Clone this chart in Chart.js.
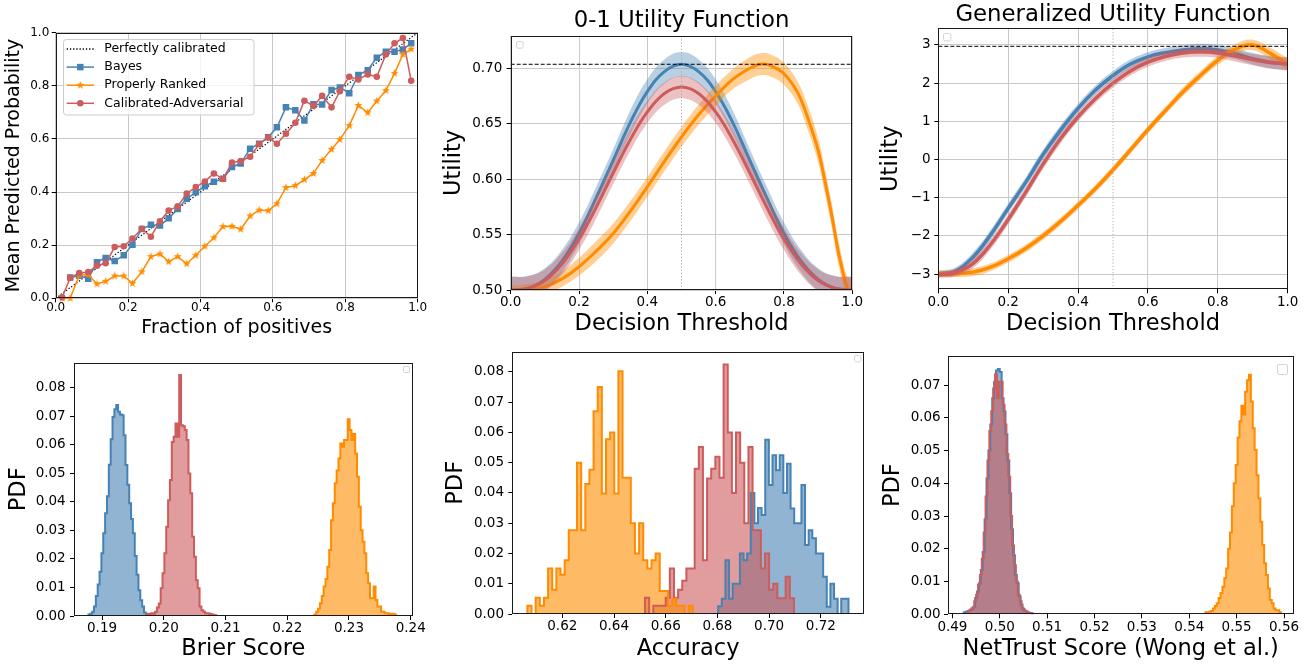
<!DOCTYPE html>
<html><head><meta charset="utf-8">
<script src="https://cdn.jsdelivr.net/npm/chart.js@4.4.1/dist/chart.umd.min.js"></script>
<style>
html,body{margin:0;padding:0;background:#fff;width:1312px;height:668px;overflow:hidden;position:relative}
canvas{position:absolute}
</style></head><body>
<script>
// ---------------- DATA ----------------
const seriesNames = ['Perfectly calibrated', 'Bayes', 'Properly Ranked', 'Calibrated-Adversarial'];

// Panel 1: calibration curves
const diagX = [0, 1];
const diagY = [0, 1];
const calX = [0.018,0.040,0.065,0.090,0.114,0.138,0.163,0.188,0.212,0.238,0.263,0.288,0.312,0.337,0.362,0.387,0.412,0.437,0.462,0.487,0.511,0.537,0.562,0.587,0.611,0.636,0.662,0.687,0.712,0.736,0.762,0.785,0.811,0.836,0.862,0.887,0.912,0.936,0.959,0.982];
const calBayes = [null,0.078,0.085,0.074,0.136,0.152,0.140,0.162,0.202,0.261,0.277,0.274,0.301,0.336,0.375,0.399,0.422,0.439,0.450,0.494,0.508,0.563,0.582,0.606,0.644,0.719,0.708,0.669,0.731,0.730,0.784,0.794,0.772,0.841,0.859,0.906,0.928,0.928,0.937,0.960];
const calRanked = [0.0,0.0,0.087,0.089,0.054,0.064,0.084,0.084,0.056,0.100,0.157,0.167,0.138,0.157,0.130,0.162,0.196,0.228,0.270,0.271,0.260,0.310,0.332,0.330,0.356,0.417,0.424,0.447,0.470,0.519,0.561,0.598,0.650,0.726,0.699,0.743,0.782,0.847,0.918,0.938];
const calAdv = [0.004,0.077,0.095,0.099,0.123,0.132,0.193,0.196,0.225,0.262,0.232,0.290,0.330,0.346,0.394,0.419,0.440,0.470,0.449,0.511,0.517,0.533,0.580,0.606,0.582,0.620,0.661,0.744,0.724,0.762,0.719,0.780,0.834,0.824,0.843,0.834,0.918,0.960,0.980,0.819];
const unitTicks = [0, 0.2, 0.4, 0.6, 0.8, 1.0];

// Panel 2: 0-1 utility
const thrX = [0,0.05,0.1,0.15,0.2,0.25,0.3,0.35,0.4,0.45,0.5,0.55,0.6,0.65,0.7,0.75,0.8,0.85,0.9,0.95,1.0];
const u01Bayes = [0.500,0.5016,0.5096,0.526,0.551,0.583,0.617,0.651,0.679,0.697,0.7036,0.697,0.679,0.651,0.617,0.583,0.551,0.526,0.5096,0.5016,0.500];
const u01BayesSd = [0.012,0.011,0.010,0.010,0.010,0.010,0.010,0.011,0.011,0.011,0.011,0.011,0.011,0.011,0.010,0.010,0.010,0.010,0.010,0.011,0.012];
const u01Adv = [0.500,0.5015,0.5086,0.5235,0.546,0.5743,0.6055,0.6356,0.6606,0.6772,0.683,0.6772,0.6606,0.6356,0.6055,0.5743,0.546,0.5235,0.5086,0.5015,0.500];
const u01AdvSd = [0.012,0.011,0.010,0.010,0.010,0.010,0.010,0.010,0.010,0.010,0.010,0.010,0.010,0.010,0.010,0.010,0.010,0.010,0.010,0.011,0.012];
const u01RankedX = [0,0.05,0.1,0.15,0.2,0.25,0.3,0.35,0.4,0.45,0.5,0.55,0.6,0.65,0.7,0.73,0.76,0.8,0.84,0.87,0.9,0.92,0.94,0.96,0.98,0.99,1.0];
const u01Ranked = [0.500,0.5005,0.503,0.510,0.521,0.535,0.551,0.571,0.593,0.616,0.638,0.658,0.675,0.690,0.700,0.7036,0.7025,0.695,0.678,0.655,0.626,0.598,0.567,0.533,0.507,0.500,0.500];
const u01RankedSd = [0.004,0.005,0.006,0.007,0.008,0.009,0.009,0.009,0.009,0.009,0.009,0.009,0.009,0.009,0.010,0.010,0.010,0.010,0.010,0.011,0.011,0.011,0.011,0.011,0.010,0.010,0.010];
const u01Best = 0.7036;
const u01Ticks = [0.50, 0.55, 0.60, 0.65, 0.70];

// Panel 3: generalized utility
const guBayes = [-3.0,-2.92,-2.55,-1.97,-1.28,-0.6,0.13,0.77,1.34,1.82,2.2,2.5,2.69,2.8,2.87,2.9,2.87,2.77,2.64,2.55,2.51];
const guBayesSd = [0.08,0.10,0.12,0.13,0.13,0.13,0.13,0.13,0.12,0.12,0.12,0.12,0.12,0.12,0.12,0.13,0.13,0.14,0.15,0.16,0.17];
const guAdv = [-3.02,-2.96,-2.72,-2.22,-1.57,-0.86,-0.12,0.55,1.12,1.6,2.0,2.32,2.55,2.7,2.79,2.82,2.79,2.71,2.62,2.54,2.5];
const guAdvSd = [0.08,0.10,0.12,0.13,0.13,0.13,0.13,0.13,0.12,0.12,0.12,0.12,0.12,0.12,0.12,0.13,0.13,0.14,0.15,0.16,0.17];
const guRanked = [-3.0,-2.99,-2.95,-2.82,-2.6,-2.33,-2.0,-1.62,-1.2,-0.76,-0.27,0.25,0.78,1.28,1.77,2.2,2.6,2.89,3.0,2.78,2.5];
const guRankedSd = [0.09,0.09,0.10,0.10,0.10,0.10,0.10,0.10,0.10,0.10,0.10,0.10,0.10,0.10,0.11,0.11,0.12,0.13,0.14,0.15,0.16];
const guBest = 2.965;
const guTicks = [-3, -2, -1, 0, 1, 2, 3];

// Panel 4: Brier score histograms
const brierWidth = 0.0003;
const brierBayesStart = 0.1878;
const brierBayes = [0.0005,0.0008,0.0015,0.0033,0.007,0.011,0.0155,0.022,0.029,0.036,0.042,0.053,0.062,0.0698,0.0725,0.074,0.0716,0.0706,0.0704,0.0634,0.0529,0.046,0.0395,0.034,0.029,0.021,0.0145,0.009,0.0055,0.0033,0.0012,0.0004];
const brierAdvStart = 0.1971;
const brierAdv = [0.0004,0.0008,0.0004,0.001,0.0008,0.0015,0.003,0.0044,0.0097,0.015,0.022,0.0313,0.0406,0.0477,0.061,0.0628,0.0675,0.0628,0.0845,0.0669,0.0665,0.0652,0.0617,0.05,0.043,0.0278,0.0208,0.0125,0.0097,0.0033,0.002,0.0015,0.001,0.001,0.0008,0.0006,0.0004,0.0003];
const brierRankedStart = 0.2244;
const brierRanked = [0.0005,0.0015,0.0025,0.0045,0.007,0.0103,0.013,0.0173,0.0231,0.0336,0.0395,0.0465,0.051,0.0552,0.0605,0.0593,0.0617,0.0617,0.069,0.0652,0.0617,0.0638,0.057,0.0488,0.0383,0.0301,0.026,0.022,0.015,0.0115,0.0062,0.0062,0.0103,0.0056,0.0033,0.0033,0.0015,0.0015,0.001,0.001,0.0005,0.0008,0.0008,0.0005];
const brierTicks = [0.19, 0.20, 0.21, 0.22, 0.23, 0.24];
const pdfTicks8 = [0, 0.01, 0.02, 0.03, 0.04, 0.05, 0.06, 0.07, 0.08];

// Panel 5: accuracy histograms
const accRankedStart = 0.6065, accRankedWidth = 0.0016;
const accRanked = [0.0027,0.0,0.0054,0.0027,0.0054,0.015,0.008,0.015,0.013,0.0178,0.0277,0.0277,0.050,0.0277,0.043,0.0477,0.067,0.075,0.0398,0.0578,0.060,0.0398,0.0802,0.045,0.045,0.030,0.020,0.030,0.0178,0.015,0.0178,0.020,0.0076,0.0076,0.0027,0.005,0.0027,0.0027,0.0,0.0027];
const accAdvStart = 0.652, accAdvWidth = 0.0016;
const accAdv = [0.0054,0.0,0.0027,0.0027,0.0027,0.0054,0.015,0.0054,0.008,0.011,0.015,0.015,0.048,0.0552,0.0178,0.0448,0.048,0.052,0.045,0.0825,0.060,0.040,0.060,0.050,0.030,0.0552,0.0277,0.0277,0.015,0.020,0.008,0.010,0.0052,0.0052,0.0123,0.0052];
const accBayesStart = 0.6803, accBayesWidth = 0.0014;
const accBayes = [0.0026,0.005,0.0178,0.005,0.010,0.010,0.020,0.0178,0.020,0.040,0.030,0.035,0.0327,0.0576,0.0426,0.0525,0.0475,0.0525,0.040,0.0497,0.0349,0.030,0.030,0.0426,0.0228,0.0277,0.025,0.020,0.020,0.0123,0.0024,0.010,0.005,0.0,0.005,0.005];
const accTicks = [0.62, 0.64, 0.66, 0.68, 0.70, 0.72];

// Panel 6: NetTrust histograms
const ntWidth = 0.0004;
const ntBayesStart = 0.4924;
const ntBayes = [0.0006,0.0008,0.001,0.0013,0.0018,0.0023,0.005,0.007,0.0095,0.0135,0.019,0.029,0.0415,0.050,0.058,0.066,0.071,0.0745,0.0749,0.074,0.066,0.062,0.055,0.047,0.037,0.026,0.018,0.012,0.0095,0.0055,0.003,0.0016,0.001,0.0008,0.0005,0.0004,0.0002];
const ntAdvStart = 0.4930;
const ntAdv = [0.0005,0.001,0.0015,0.002,0.004,0.006,0.009,0.012,0.017,0.025,0.036,0.047,0.056,0.062,0.069,0.0733,0.066,0.071,0.071,0.064,0.058,0.049,0.042,0.030,0.021,0.015,0.010,0.006,0.004,0.002,0.0012,0.0008,0.0005,0.0003];
const ntRankedStart = 0.5434;
const ntRanked = [0.0006,0.0006,0.0008,0.001,0.0018,0.0025,0.0034,0.005,0.0065,0.0084,0.011,0.014,0.020,0.025,0.033,0.040,0.0456,0.054,0.059,0.0637,0.061,0.068,0.0715,0.0732,0.065,0.0568,0.0502,0.0425,0.0354,0.0283,0.0212,0.0156,0.012,0.0079,0.0044,0.0034,0.0018,0.0012,0.0012,0.0006];
const ntTicks = [0.49, 0.50, 0.51, 0.52, 0.53, 0.54, 0.55, 0.56];
const pdfTicks7 = [0, 0.01, 0.02, 0.03, 0.04, 0.05, 0.06, 0.07];

// ---------------- STYLE / HELPERS ----------------
Chart.defaults.font.family = 'DejaVu Sans';
Chart.defaults.color = '#000';
const BLUE = [70,130,180], RED = [205,92,92], ORANGE = [255,140,0];
const rgba = (c, a) => `rgba(${c[0]},${c[1]},${c[2]},${a})`;

function starImg(color, size, rOut) {
  const c = document.createElement('canvas'); c.width = c.height = size;
  const g = c.getContext('2d'); g.fillStyle = color; g.beginPath();
  for (let i = 0; i < 10; i++) {
    const r = i % 2 ? rOut * 0.42 : rOut;
    const a = -Math.PI / 2 + i * Math.PI / 5;
    g.lineTo(size / 2 + r * Math.cos(a), size / 2 + r * Math.sin(a));
  }
  g.closePath(); g.fill(); return c;
}
const STAR = starImg(rgba(ORANGE, 1), 9, 4.2);

function steps(start, width, h) {
  const pts = [{x: start, y: 0}];
  h.forEach((v, i) => pts.push({x: start + i * width, y: v}));
  pts.push({x: start + h.length * width, y: 0});
  return pts;
}
function xy(xs, ys) { return xs.map((x, i) => ({x, y: ys[i]})).filter(p => p.y !== null); }

function bandSets(xs, ys, sd, col, alpha, lw) {
  const common = {pointRadius: 0, tension: 0.4, clip: 0};
  return [
    {...common, data: xs.map((x, i) => ({x, y: ys[i] + sd[i]})), fill: '+1', backgroundColor: rgba(col, alpha), borderWidth: 0, borderColor: 'transparent'},
    {...common, data: xs.map((x, i) => ({x, y: ys[i] - sd[i]})), fill: false, borderWidth: 0, borderColor: 'transparent'},
    {...common, data: xy(xs, ys), fill: false, borderColor: rgba(col, 1), borderWidth: lw}
  ];
}
function histSets(series) {
  const fills = series.map(s => ({data: steps(s.start, s.width, s.h), stepped: true, fill: 'origin', backgroundColor: rgba(s.col, 0.6), borderWidth: 0, borderColor: 'transparent', pointRadius: 0, clip: 0}));
  const lines = series.map(s => ({data: steps(s.start, s.width, s.h), stepped: true, fill: false, borderColor: rgba(s.col, 1), borderWidth: 2, pointRadius: 0, clip: 0}));
  return fills.concat(lines);
}
function paintOrder(ds) { ds.forEach((d, i) => d.order = ds.length - i); return ds; }

function roundRect(ctx, x, y, w, h, r) {
  ctx.beginPath();
  ctx.moveTo(x + r, y); ctx.lineTo(x + w - r, y); ctx.quadraticCurveTo(x + w, y, x + w, y + r);
  ctx.lineTo(x + w, y + h - r); ctx.quadraticCurveTo(x + w, y + h, x + w - r, y + h);
  ctx.lineTo(x + r, y + h); ctx.quadraticCurveTo(x, y + h, x, y + h - r);
  ctx.lineTo(x, y + r); ctx.quadraticCurveTo(x, y, x + r, y); ctx.closePath();
}

const framePlugin = {
  id: 'frame',
  afterDatasetsDraw(chart) {
    const a = chart.chartArea, ctx = chart.ctx;
    ctx.save(); ctx.strokeStyle = '#1a1a1a'; ctx.lineWidth = 1;
    const l = Math.round(a.left) + 0.5, t = Math.round(a.top) + 0.5;
    const r = Math.round(a.right) - 0.5, b = Math.round(a.bottom) - 0.5;
    ctx.strokeRect(l, t, r - l, b - t);
    ctx.restore();
  }
};
function emptyLegend(pos) {
  return {
    id: 'emptyLegend',
    afterDraw(chart) {
      const a = chart.chartArea, ctx = chart.ctx;
      const x = pos.fromRight ? a.right - pos.dx : a.left + pos.dx;
      ctx.save(); ctx.strokeStyle = '#d4d4d4'; ctx.lineWidth = 1; ctx.fillStyle = 'rgba(255,255,255,0.8)';
      roundRect(ctx, Math.round(x) + 0.5, Math.round(a.top + pos.dy) + 0.5, pos.s, pos.s, 1.5);
      ctx.fill(); ctx.stroke(); ctx.restore();
    }
  };
}
const calLegend = {
  id: 'calLegend',
  afterDraw(chart) {
    const a = chart.chartArea, ctx = chart.ctx;
    ctx.save();
    ctx.fillStyle = 'rgba(255,255,255,0.8)'; ctx.strokeStyle = '#cccccc'; ctx.lineWidth = 1;
    roundRect(ctx, Math.round(a.left + 7) + 0.5, Math.round(a.top + 6.6) + 0.5, 190.5, 75.5, 3);
    ctx.fill(); ctx.stroke();
    const styles = [
      {col: '#000', dash: [1.3, 1.9], lw: 1.3},
      {col: rgba(BLUE, 1), ps: 'rect', r: 4.6},
      {col: rgba(ORANGE, 1), ps: STAR},
      {col: rgba(RED, 1), ps: 'circle', r: 3.3}
    ];
    ctx.font = '12.5px "DejaVu Sans"'; ctx.textBaseline = 'middle';
    seriesNames.forEach((name, i) => {
      const y = a.top + 16.3 + 18.1 * i, st = styles[i];
      ctx.strokeStyle = st.col; ctx.lineWidth = st.lw || 1.5; ctx.setLineDash(st.dash || []);
      ctx.beginPath(); ctx.moveTo(a.left + 11, y); ctx.lineTo(a.left + 38.3, y); ctx.stroke();
      ctx.setLineDash([]);
      if (st.ps) {
        ctx.fillStyle = st.col;
        Chart.helpers.drawPoint(ctx, {pointStyle: st.ps, radius: st.r || 4, rotation: 0, borderWidth: 0}, a.left + 24.6, y);
      }
      ctx.fillStyle = '#000';
      ctx.fillText(name, a.left + 48.6, y);
    });
    ctx.restore();
  }
};

function mkScale(spec, ax, isX) {
  return {
    type: 'linear', position: isX ? 'bottom' : 'left', min: ax.min, max: ax.max,
    afterBuildTicks: s => { s.ticks = ax.ticks.map(v => ({value: v})); },
    afterFit: s => { if (isX) s.height = spec.cy + spec.ch - spec.B; else s.width = spec.L - spec.cx; },
    ticks: {autoSkip: false, maxRotation: 0, minRotation: 0, padding: ax.tickPad, color: '#000',
      font: {size: spec.tickSize, lineHeight: 1}, callback: v => ax.fmt(v)},
    grid: {drawOnChartArea: !!spec.grid, drawTicks: true, tickLength: 4, color: '#c9c9c9', lineWidth: 1, tickColor: '#000', tickWidth: 1},
    border: {display: false},
    title: {display: true, text: ax.label, color: '#000', font: {size: spec.labelSize, lineHeight: 1},
      padding: isX ? {top: 0, bottom: ax.titlePad} : {top: ax.titlePad, bottom: 0}}
  };
}

function makePanel(spec) {
  const cv = document.createElement('canvas');
  cv.width = spec.cw; cv.height = spec.ch;
  cv.style.left = spec.cx + 'px'; cv.style.top = spec.cy + 'px';
  document.body.appendChild(cv);
  const plugins = [framePlugin].concat(spec.plugins || []);
  new Chart(cv.getContext('2d'), {
    type: 'line',
    data: {datasets: paintOrder(spec.datasets)},
    options: {
      responsive: false, animation: false, devicePixelRatio: 1, events: [],
      layout: {autoPadding: false, padding: {left: 0, bottom: 0, top: spec.title ? 0 : spec.T - spec.cy, right: spec.cx + spec.cw - spec.R}},
      plugins: {
        legend: {display: false}, tooltip: {enabled: false},
        title: spec.title ? {display: true, text: spec.title, fullSize: false, color: '#000',
          font: {size: 22.8, weight: 'normal', lineHeight: 1}, padding: {top: spec.tPadTop, bottom: spec.tPadBottom}} : {display: false}
      },
      scales: {x: mkScale(spec, spec.x, true), y: mkScale(spec, spec.y, false)}
    },
    plugins
  });
}

const f1 = v => v.toFixed(1), f2 = v => v.toFixed(2);
const fMinus = v => v < 0 ? '\u2212' + Math.abs(v) : String(v);

// ---------------- PANEL 1 ----------------
makePanel({
  cx: 0, cy: 0, cw: 437, ch: 340, L: 55.7, T: 32.7, R: 417.7, B: 298.3,
  tickSize: 12, labelSize: 19, grid: true,
  x: {min: 0, max: 1, ticks: unitTicks, fmt: f1, tickPad: 0, titlePad: 2.8, label: 'Fraction of positives'},
  y: {min: 0, max: 1, ticks: unitTicks, fmt: f1, tickPad: 2.4, titlePad: 4.4, label: 'Mean Predicted Probability'},
  plugins: [calLegend],
  datasets: [
    {label: seriesNames[0], data: xy(diagX, diagY), borderColor: '#000', borderWidth: 1.2, borderDash: [1.3, 1.9], pointRadius: 0, fill: false, clip: 0},
    {label: seriesNames[1], data: xy(calX, calBayes), borderColor: rgba(BLUE, 1), backgroundColor: rgba(BLUE, 1), borderWidth: 1.5, pointStyle: 'rect', pointRadius: 4.6, pointBorderWidth: 0, fill: false, clip: 5},
    {label: seriesNames[2], data: xy(calX, calRanked), borderColor: rgba(ORANGE, 1), backgroundColor: rgba(ORANGE, 1), borderWidth: 1.5, pointStyle: STAR, pointRadius: 4, pointBorderWidth: 0, fill: false, clip: 5},
    {label: seriesNames[3], data: xy(calX, calAdv), borderColor: rgba(RED, 1), backgroundColor: rgba(RED, 1), borderWidth: 1.5, pointStyle: 'circle', pointRadius: 3.3, pointBorderWidth: 0, fill: false, clip: 5}
  ]
});

// ---------------- PANEL 2 ----------------
makePanel({
  cx: 437, cy: 0, cw: 437, ch: 340, L: 510.7, T: 36, R: 852.3, B: 290,
  title: '0-1 Utility Function', tPadTop: 10.1, tPadBottom: 3.1,
  tickSize: 13.5, labelSize: 22.5, grid: true,
  x: {min: 0, max: 1, ticks: unitTicks, fmt: f1, tickPad: 2, titlePad: 4.95, label: 'Decision Threshold'},
  y: {min: 0.5, max: 0.7291, ticks: u01Ticks, fmt: f2, tickPad: 4.4, titlePad: 5.75, label: 'Utility'},
  plugins: [emptyLegend({dx: 5.3, dy: 4.7, s: 6.7})],
  datasets: [
    ...bandSets(thrX, u01Bayes, u01BayesSd, BLUE, 0.38, 3),
    ...bandSets(u01RankedX, u01Ranked, u01RankedSd, ORANGE, 0.42, 3),
    ...bandSets(thrX, u01Adv, u01AdvSd, RED, 0.38, 3),
    {data: xy([0.5, 0.5], [0.5, 0.7291]), borderColor: '#aaaaaa', borderWidth: 1, borderDash: [1.2, 2], pointRadius: 0, fill: false, clip: 0},
    {data: xy([0, 1], [u01Best, u01Best]), borderColor: '#000', borderWidth: 1, borderDash: [4, 2], pointRadius: 0, fill: false, clip: 0}
  ]
});

// ---------------- PANEL 3 ----------------
makePanel({
  cx: 874, cy: 0, cw: 438, ch: 340, L: 938.3, T: 28.3, R: 1287.7, B: 289.3,
  title: 'Generalized Utility Function', tPadTop: 3.4, tPadBottom: 2.1,
  tickSize: 13.5, labelSize: 22.5, grid: true,
  x: {min: 0, max: 1, ticks: unitTicks, fmt: f1, tickPad: 2, titlePad: 4.75, label: 'Decision Threshold'},
  y: {min: -3.40, max: 3.437, ticks: guTicks, fmt: fMinus, tickPad: 3.6, titlePad: 6.2, label: 'Utility'},
  plugins: [emptyLegend({dx: 5, dy: 5, s: 7.4})],
  datasets: [
    ...bandSets(thrX, guBayes, guBayesSd, BLUE, 0.38, 3.5),
    ...bandSets(thrX, guRanked, guRankedSd, ORANGE, 0.42, 3.5),
    ...bandSets(thrX, guAdv, guAdvSd, RED, 0.38, 3.5),
    {data: xy([0.5, 0.5], [-3.40, 3.437]), borderColor: '#aaaaaa', borderWidth: 1, borderDash: [1.2, 2], pointRadius: 0, fill: false, clip: 0},
    {data: xy([0, 1], [guBest, guBest]), borderColor: '#000', borderWidth: 1, borderDash: [4, 2], pointRadius: 0, fill: false, clip: 0}
  ]
});

// ---------------- PANEL 4 ----------------
makePanel({
  cx: 0, cy: 340, cw: 437, ch: 328, L: 74, T: 362.7, R: 412.7, B: 616,
  tickSize: 13.5, labelSize: 22.5, grid: false,
  x: {min: 0.18546, max: 0.24032, ticks: brierTicks, fmt: f2, tickPad: 2, titlePad: 7.35, label: 'Brier Score'},
  y: {min: 0, max: 0.0888, ticks: pdfTicks8, fmt: f2, tickPad: 4.3, titlePad: 7.75, label: 'PDF'},
  plugins: [emptyLegend({fromRight: true, dx: 9.4, dy: 3.3, s: 6})],
  datasets: histSets([
    {start: brierBayesStart, width: brierWidth, h: brierBayes, col: BLUE},
    {start: brierAdvStart, width: brierWidth, h: brierAdv, col: RED},
    {start: brierRankedStart, width: brierWidth, h: brierRanked, col: ORANGE}
  ])
});

// ---------------- PANEL 5 ----------------
makePanel({
  cx: 437, cy: 340, cw: 437, ch: 328, L: 512.3, T: 351.7, R: 864, B: 614,
  tickSize: 13.5, labelSize: 22.5, grid: false,
  x: {min: 0.60066, max: 0.7367, ticks: accTicks, fmt: f2, tickPad: 2, titlePad: 7.95, label: 'Accuracy'},
  y: {min: 0, max: 0.0867, ticks: pdfTicks8, fmt: f2, tickPad: 4.3, titlePad: 8, label: 'PDF'},
  plugins: [emptyLegend({fromRight: true, dx: 9.7, dy: 3.3, s: 6.4})],
  datasets: histSets([
    {start: accBayesStart, width: accBayesWidth, h: accBayes, col: BLUE},
    {start: accAdvStart, width: accAdvWidth, h: accAdv, col: RED},
    {start: accRankedStart, width: accRankedWidth, h: accRanked, col: ORANGE}
  ])
});

// ---------------- PANEL 6 ----------------
makePanel({
  cx: 874, cy: 340, cw: 438, ch: 328, L: 948, T: 356, R: 1293.5, B: 614.3,
  tickSize: 13.5, labelSize: 22.5, grid: false,
  x: {min: 0.48907, max: 0.5620, ticks: ntTicks, fmt: f2, tickPad: 2, titlePad: 7.95, label: 'NetTrust Score (Wong et al.)'},
  y: {min: 0, max: 0.0789, ticks: pdfTicks7, fmt: f2, tickPad: 3.3, titlePad: 8, label: 'PDF'},
  plugins: [emptyLegend({fromRight: true, dx: 16.2, dy: 7.5, s: 10})],
  datasets: histSets([
    {start: ntBayesStart, width: ntWidth, h: ntBayes, col: BLUE},
    {start: ntAdvStart, width: ntWidth, h: ntAdv, col: RED},
    {start: ntRankedStart, width: ntWidth, h: ntRanked, col: ORANGE}
  ])
});
</script>
</body></html>
